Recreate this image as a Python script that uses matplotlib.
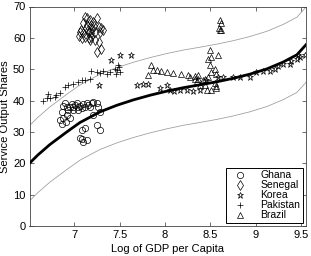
import matplotlib
matplotlib.use("Agg")
import matplotlib.pyplot as plt
import numpy as np

plt.rcParams['font.family'] = ['Liberation Sans', 'DejaVu Sans']

# ---- data ----
ghana_x = [6.845, 6.864, 6.881, 6.881, 6.90, 6.919, 6.919, 6.936, 6.955, 6.955, 6.974, 6.991,
           6.991, 7.01, 7.029, 7.046, 7.046, 7.065, 7.084, 7.098, 7.12, 7.139, 7.156, 7.175,
           7.194, 7.211, 7.248, 7.266, 7.285, 7.211, 7.248, 7.285, 7.12, 7.084, 7.065, 7.084,
           7.101, 7.139, 6.867, 6.911]
ghana_y = [33.8, 36.3, 38.2, 34.4, 39.2, 38.0, 35.4, 36.9, 37.8, 34.3, 38.9, 38.0,
           36.9, 38.5, 39.1, 38.0, 36.9, 38.2, 37.5, 38.9, 38.0, 39.1, 38.5, 37.8,
           39.1, 39.6, 39.1, 38.0, 36.4, 35.4, 32.2, 30.6, 31.1, 30.6, 28.0, 27.9,
           26.8, 27.4, 32.5, 33.1]

senegal_x = [7.12, 7.145, 7.175, 7.25, 7.21, 7.10, 7.14, 7.19, 7.27, 7.30, 7.32, 7.065,
             7.10, 7.16, 7.19, 7.23, 7.12, 7.16, 7.19, 7.23, 7.27, 7.175, 7.30, 7.25,
             7.08, 7.13, 7.20, 7.28, 7.05, 7.09, 7.15, 7.22]
senegal_y = [66.7, 66.2, 65.6, 66.2, 64.9, 64.6, 64.0, 64.0, 63.5, 63.0, 62.4, 61.9,
             61.4, 61.9, 61.4, 61.9, 60.3, 59.8, 60.3, 59.2, 58.7, 59.2, 56.6, 55.5,
             62.5, 63.0, 62.8, 62.0, 60.5, 60.0, 62.5, 63.8]

korea_x = [7.27, 7.41, 7.505, 7.625, 7.69, 7.755, 7.815, 7.945, 8.02, 8.05, 8.10, 8.16,
           8.24, 8.31, 8.38, 8.45, 8.58, 8.64, 8.75, 8.82, 8.93, 9.0, 9.08, 9.15,
           9.21, 9.24, 9.30, 9.37, 9.39, 9.45, 9.48, 9.54, 9.46]
korea_y = [45.1, 52.9, 54.5, 54.5, 44.9, 45.4, 45.2, 43.9, 44.9, 43.3, 43.0, 43.3,
           43.3, 43.1, 43.3, 46.5, 47.4, 47.4, 47.5, 47.5, 47.4, 49.1, 49.5, 49.5,
           50.2, 51.1, 51.6, 51.8, 52.6, 53.1, 53.9, 54.5, 54.5]

pakistan_x = [6.655, 6.71, 6.735, 6.79, 6.845, 6.90, 6.936, 6.99, 7.046, 7.084, 7.12, 7.175,
              7.19, 7.25, 7.285, 7.32, 7.358, 7.45, 7.47, 7.49, 7.505, 7.46, 7.48, 6.80,
              6.70, 7.40]
pakistan_y = [39.9, 42.0, 40.7, 41.2, 42.3, 44.4, 44.9, 45.4, 46.0, 46.5, 46.7, 47.0,
              49.5, 49.1, 48.8, 49.5, 48.6, 50.2, 49.7, 50.7, 49.1, 48.5, 51.5, 41.8,
              40.8, 49.0]

brazil_x = [7.815, 7.845, 7.865, 7.91, 7.96, 8.02, 8.09, 8.18, 8.255, 8.33, 8.365, 8.27,
            8.33, 8.365, 8.42, 8.44, 8.475, 8.51, 8.55, 8.565, 8.49, 8.475, 8.51, 8.49,
            8.585, 8.55, 8.565, 8.51, 8.46, 8.565, 8.38, 8.44, 8.35, 8.60, 8.62, 8.595,
            8.62, 8.60]
brazil_y = [48.1, 51.3, 49.7, 49.7, 49.5, 49.1, 48.9, 48.6, 48.1, 47.9, 48.1, 47.4,
            46.8, 47.0, 46.5, 47.0, 47.5, 49.1, 50.2, 48.6, 51.3, 53.4, 53.9, 56.1,
            54.5, 45.6, 44.6, 43.3, 43.3, 43.9, 44.9, 44.9, 46.3, 65.6, 64.7, 63.0,
            62.6, 62.4]

fit_x = [6.51, 6.6, 6.735, 6.92, 7.065, 7.285, 7.47, 7.65, 7.835, 8.02, 8.20, 8.38,
         8.57, 8.75, 8.93, 9.12, 9.30, 9.45, 9.55]
fit_y = [20.0, 22.6, 26.0, 30.0, 33.0, 36.4, 38.5, 40.2, 41.7, 43.0, 44.1, 45.0,
         46.0, 47.1, 48.4, 50.1, 52.3, 54.6, 57.8]
band_half_width = 12.0

x_ticks = [7, 7.5, 8, 8.5, 9, 9.5]
x_ticklabels = ['7', '7.5', '8', '8.5', '9', '9.5']
y_ticks = [0, 10, 20, 30, 40, 50, 60, 70]

# ---- figure ----
fig = plt.figure(figsize=(3.11, 2.56), dpi=100)
ax = fig.add_axes([29.5/311, 30/256, 276.5/311, 219.5/256])

fx = np.array(fit_x)
fy = np.array(fit_y)
ax.plot(fx, fy + band_half_width, color='#9a9a9a', lw=0.55, zorder=1)
ax.plot(fx, fy - band_half_width, color='#9a9a9a', lw=0.55, zorder=1)
ax.plot(fx, fy, color='black', lw=2.0, zorder=3)

mkw = dict(linestyle='none', markerfacecolor='none', markeredgecolor='black',
           markeredgewidth=0.5, zorder=2)
ax.plot(ghana_x, ghana_y, marker='o', markersize=4.5, label='Ghana', **mkw)
ax.plot(senegal_x, senegal_y, marker='d', markersize=4.8, label='Senegal', **mkw)
ax.plot(korea_x, korea_y, marker='*', markersize=5.0, label='Korea', **mkw)
ax.plot(pakistan_x, pakistan_y, marker='+', markersize=5.0, label='Pakistan', **mkw)
ax.plot(brazil_x, brazil_y, marker='^', markersize=5.0, label='Brazil', **mkw)

ax.set_xlim(6.51, 9.55)
ax.set_ylim(0, 70)
ax.set_xticks(x_ticks)
ax.set_xticklabels(x_ticklabels)
ax.set_yticks(y_ticks)
ax.tick_params(direction='in', length=3, width=0.5, labelsize=8, top=True, right=True,
               colors='#333333', labelcolor='black', pad=3)
for s in ax.spines.values():
    s.set_linewidth(0.6)
    s.set_color('#444444')

ax.set_xlabel('Log of GDP per Capita', fontsize=8, labelpad=3)
ax.set_ylabel('Service Output Shares', fontsize=8, labelpad=2)

leg = ax.legend(loc='lower right', fontsize=7.5, labelspacing=0.0, handlelength=2.2,
                handletextpad=0.9, borderpad=0.25, borderaxespad=0.3, fancybox=False,
                framealpha=1, edgecolor='black')
leg.get_frame().set_linewidth(0.7)

fig.savefig('out.png', dpi=100)
